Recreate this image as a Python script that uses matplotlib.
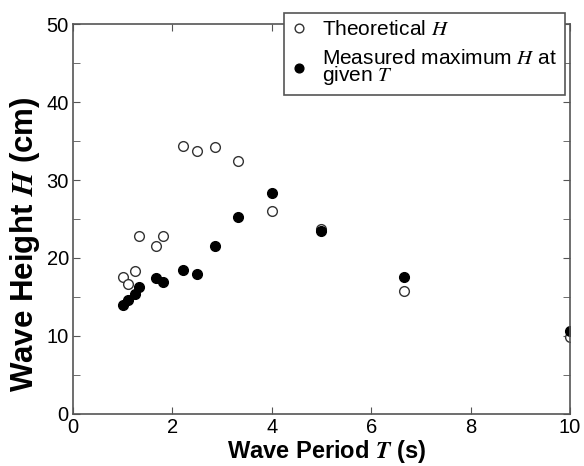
import matplotlib
matplotlib.use("Agg")
import matplotlib.pyplot as plt
from matplotlib.ticker import MultipleLocator

plt.rcParams['font.family'] = ['Liberation Sans', 'DejaVu Sans']
plt.rcParams['mathtext.fontset'] = 'stix'

# wave periods (s)
period = [1.0, 1.11, 1.25, 1.33, 1.67, 1.82, 2.22, 2.5, 2.86, 3.33, 4.0, 5.0, 6.67, 10.0]
# theoretical wave height (cm)
h_theory = [17.6, 16.6, 18.3, 22.8, 21.5, 22.8, 34.4, 33.7, 34.2, 32.5, 26.0, 23.7, 15.7, 9.8]
# measured maximum wave height (cm)
h_measured = [14.0, 14.6, 15.4, 16.3, 17.4, 16.9, 18.4, 17.9, 21.5, 25.2, 28.3, 23.4, 17.5, 10.6]

fig = plt.figure(figsize=(5.84, 4.66), dpi=100)
ax = fig.add_axes([0.125, 0.112, 0.851, 0.836])

ax.plot(period, h_theory, 'o', ms=7, mfc='white', mec='#333333', mew=1.0,
        label='Theoretical $H$')
ax.plot(period, h_measured, 'o', ms=7, mfc='black', mec='black',
        label='Measured maximum $H$ at\ngiven $T$')

ax.set_xlim(0, 10)
ax.set_ylim(0, 50)
ax.xaxis.set_major_locator(MultipleLocator(2))
ax.yaxis.set_major_locator(MultipleLocator(10))
ax.yaxis.set_minor_locator(MultipleLocator(5))

for s in ax.spines.values():
    s.set_color('#555555')
    s.set_linewidth(1.2)
ax.tick_params(which='both', direction='in', top=True, right=True,
               color='#555555', labelsize=14.5, pad=3, length=5)

ax.set_xlabel('Wave Period $\\mathbfit{T}$ (s)', fontsize=17, fontweight='bold', labelpad=0)
ax.set_ylabel('Wave Height $\\mathbfit{H}$ (cm)', fontsize=22.5, fontweight='bold')
ax.yaxis.set_label_coords(-0.062, 0.435)
ax.xaxis.set_label_coords(0.51, -0.063)

leg = ax.legend(loc='upper right', bbox_to_anchor=(0.967, 0.972),
                bbox_transform=fig.transFigure, fontsize=15, markerscale=0.9,
                frameon=True, fancybox=False, framealpha=1, edgecolor='#555555',
                handlelength=0.8, handletextpad=0.7, borderpad=0.35, labelspacing=0.45,
                borderaxespad=0)
leg.get_frame().set_linewidth(1.2)
leg.get_texts()[1].set_linespacing(0.8)

fig.savefig('out.png', dpi=100)
